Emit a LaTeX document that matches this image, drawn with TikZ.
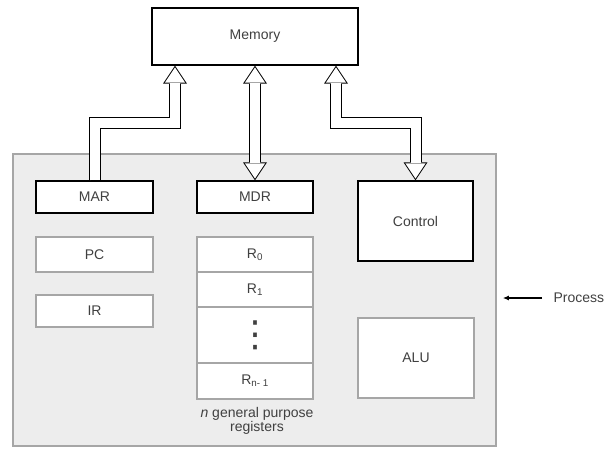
\documentclass[tikz,border=0pt]{standalone}
\usepackage{fontspec}
\setmainfont{Liberation Sans}
\newfontfamily\symfont{DejaVu Sans}
\usetikzlibrary{positioning, arrows.meta}

\begin{document}
\begin{tikzpicture}[x=1pt, y=-1pt, font=\fontsize{14}{15}\selectfont,
        box/.style={draw, line width=1.3pt, fill=white, text=black!75, inner sep=0pt},
        softbox/.style={draw=black!35, line width=1.6pt, fill=white, text=black!75, inner sep=0pt},
        outtip/.tip={Triangle[length=18pt, width=24pt, line width=0pt]},
        intip/.tip={Triangle[length=15.2pt, width=20.3pt, line width=0pt]},
        bus/.style={line width=12pt, -outtip,
            postaction={draw=white, line width=10pt, shorten >=1.8pt, -intip}},
        dbus/.style={line width=12pt, outtip-outtip,
            postaction={draw=white, line width=10pt, shorten <=1.8pt, shorten >=1.8pt, intip-intip}}]
            \useasboundingbox (0,0) rectangle (608,448);

            % processor
            \node[draw=black!35, line width=1.6pt, fill=black!7, minimum width=483pt, minimum height=292pt] (cpu) at (254.5,300) {};

            \node[box, minimum width=206pt, minimum height=57pt] (mem) at (255,36.5) {Memory};

            \node[box, minimum width=117pt, minimum height=32pt] (mar) at (94.5,197) {MAR};
            \node[box, minimum width=116pt, minimum height=32pt] (mdr) at (255,197) {MDR};
            \node[box, minimum width=115pt, minimum height=80pt] (ctrl) at (415.5,221) {Control};

            \node[softbox, minimum width=117pt, minimum height=35pt] (pc) at (94.5,254.5) {PC};
            \node[softbox, minimum width=117pt, minimum height=32pt] (ir) at (94.5,311) {IR};
            \node[softbox, minimum width=116pt, minimum height=80pt] (alu) at (416,358) {ALU};

            % registers
            \node[softbox, minimum width=116pt, minimum height=35pt] (r0) at (255,254.5) {R\textsubscript{0}};
            \node[softbox, minimum width=116pt, minimum height=35pt] (r1) at (255,289.5) {R\textsubscript{1}};
            \node[softbox, minimum width=116pt, minimum height=56pt,
                font=\symfont\fontsize{36}{36}\selectfont] (rdots) at (255,335) {⋮};
            \node[softbox, minimum width=116pt, minimum height=36pt] (rlast) at (255,381) {R\textsubscript{n- 1}};
            \node[text=black!75, align=center, font=\fontsize{14}{13}\selectfont] (regs) at (257,421)
                {\textit{n} general purpose\\registers};

            \node[anchor=west, text=black!75] (plabel) at (550,298) {Process};
            \draw[-{Latex[length=6pt, width=5pt]}, line width=1.2pt, shorten <=8pt, shorten >=6pt]
                (plabel.west) -- (cpu.east |- plabel.west);

            % buses to memory
            \coordinate (busl) at (175,123);
            \coordinate (busr) at (336,123);
            \draw[bus] (mar.north) |- (busl) -- (busl |- mem.south);
            \draw[dbus] (mdr.north) -- (mdr.north |- mem.south);
            \draw[dbus] (busr |- mem.south) -- (busr) -| (ctrl.north);
        \end{tikzpicture}
\end{document}
